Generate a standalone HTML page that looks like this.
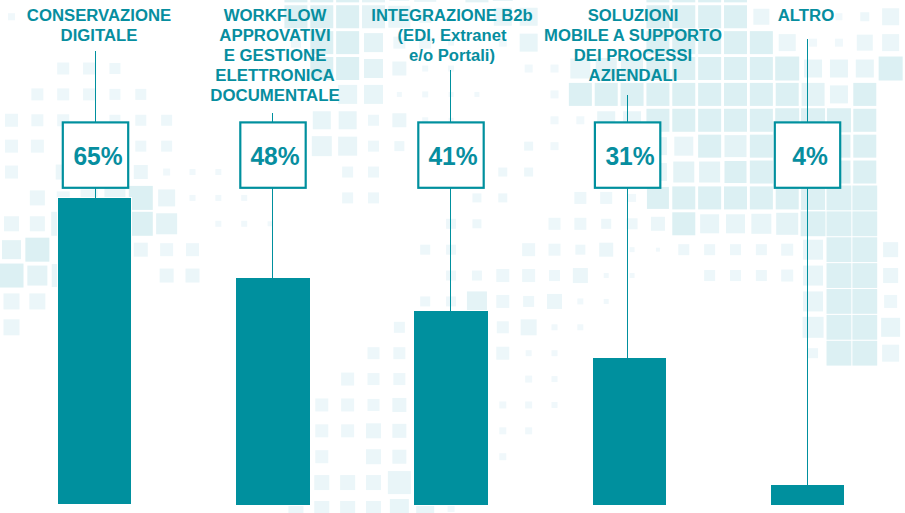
<!DOCTYPE html><html lang="it"><head><meta charset="utf-8"><title>Grafico</title><style>
html,body{margin:0;padding:0;background:#fff;}
body{width:905px;height:513px;overflow:hidden;position:relative;font-family:"Liberation Sans",sans-serif;}
.bg{position:absolute;left:0;top:0;}
.bar{position:absolute;background:#00909e;box-shadow:0 0 0 1px #fff;}
.ln{position:absolute;width:1px;background:#00909e;}
.box{position:absolute;width:64px;height:64px;border:2px solid #00909e;background:#fff;box-sizing:content-box;}
.pct{position:absolute;width:68px;text-align:center;font-weight:bold;font-size:26.5px;line-height:68px;color:#078e9f;white-space:nowrap;transform:scaleX(0.928);transform-origin:50% 50%;}
.lab{position:absolute;width:240px;text-align:center;font-weight:bold;font-size:16px;line-height:20px;color:#078e9f;white-space:nowrap;transform:scaleX(1.05);transform-origin:50% 50%;}
</style></head><body>
<svg class="bg" width="905" height="513" viewBox="0 0 905 513"><rect x="284.43" y="-20.63" width="23.0" height="23.0" fill="#dcf0f3"/><rect x="310.29" y="-20.63" width="23.0" height="23.0" fill="#dcf0f3"/><rect x="336.14" y="-20.63" width="23.0" height="23.0" fill="#dcf0f3"/><rect x="362.0" y="-20.63" width="23.0" height="23.0" fill="#e4f3f6"/><rect x="389.36" y="-19.13" width="20.0" height="20.0" fill="#e8f5f8"/><rect x="414.21" y="-20.13" width="22.0" height="22.0" fill="#e8f5f8"/><rect x="465.43" y="-20.63" width="23.0" height="23.0" fill="#e4f3f6"/><rect x="492.79" y="-19.13" width="20.0" height="20.0" fill="#e4f3f6"/><rect x="646.43" y="-20.63" width="23.0" height="23.0" fill="#dcf0f3"/><rect x="672.29" y="-20.63" width="23.0" height="23.0" fill="#dcf0f3"/><rect x="698.14" y="-20.63" width="23.0" height="23.0" fill="#dcf0f3"/><rect x="724.0" y="-20.63" width="23.0" height="23.0" fill="#dcf0f3"/><rect x="8.0" y="13.25" width="7.0" height="7.0" fill="#f0f8fb"/><rect x="284.43" y="5.25" width="23.0" height="23.0" fill="#dcf0f3"/><rect x="310.29" y="5.25" width="23.0" height="23.0" fill="#dcf0f3"/><rect x="336.14" y="5.25" width="23.0" height="23.0" fill="#dcf0f3"/><rect x="362.0" y="5.25" width="23.0" height="23.0" fill="#e4f3f6"/><rect x="388.36" y="5.75" width="22.0" height="22.0" fill="#e8f5f8"/><rect x="419.21" y="10.75" width="12.0" height="12.0" fill="#edf7fa"/><rect x="493.79" y="7.75" width="18.0" height="18.0" fill="#e8f5f8"/><rect x="519.64" y="7.75" width="18.0" height="18.0" fill="#e8f5f8"/><rect x="646.43" y="5.25" width="23.0" height="23.0" fill="#dcf0f3"/><rect x="672.29" y="5.25" width="23.0" height="23.0" fill="#dcf0f3"/><rect x="698.14" y="5.25" width="23.0" height="23.0" fill="#dcf0f3"/><rect x="724.0" y="5.25" width="23.0" height="23.0" fill="#dcf0f3"/><rect x="753.36" y="8.75" width="16.0" height="16.0" fill="#ebf6f9"/><rect x="835.43" y="13.25" width="7.0" height="7.0" fill="#f0f8fb"/><rect x="860.29" y="12.25" width="9.0" height="9.0" fill="#edf7fa"/><rect x="882.14" y="8.25" width="17.0" height="17.0" fill="#ebf6f9"/><rect x="290.93" y="37.63" width="10.0" height="10.0" fill="#edf7fa"/><rect x="310.29" y="31.13" width="23.0" height="23.0" fill="#dcf0f3"/><rect x="336.14" y="31.13" width="23.0" height="23.0" fill="#dcf0f3"/><rect x="364.0" y="33.13" width="19.0" height="19.0" fill="#e4f3f6"/><rect x="393.36" y="36.63" width="12.0" height="12.0" fill="#edf7fa"/><rect x="419.21" y="36.63" width="12.0" height="12.0" fill="#edf7fa"/><rect x="448.07" y="39.63" width="6.0" height="6.0" fill="#f0f8fb"/><rect x="498.79" y="38.63" width="8.0" height="8.0" fill="#f0f8fb"/><rect x="519.64" y="33.63" width="18.0" height="18.0" fill="#e8f5f8"/><rect x="646.43" y="31.13" width="23.0" height="23.0" fill="#dcf0f3"/><rect x="672.29" y="31.13" width="23.0" height="23.0" fill="#dcf0f3"/><rect x="698.14" y="31.13" width="23.0" height="23.0" fill="#dcf0f3"/><rect x="724.0" y="31.13" width="23.0" height="23.0" fill="#dcf0f3"/><rect x="749.86" y="31.13" width="23.0" height="23.0" fill="#dcf0f3"/><rect x="778.71" y="34.13" width="17.0" height="17.0" fill="#ebf6f9"/><rect x="809.07" y="38.63" width="8.0" height="8.0" fill="#f0f8fb"/><rect x="834.93" y="38.63" width="8.0" height="8.0" fill="#f0f8fb"/><rect x="856.79" y="34.63" width="16.0" height="16.0" fill="#ebf6f9"/><rect x="882.14" y="34.13" width="17.0" height="17.0" fill="#ebf6f9"/><rect x="57.21" y="62.51" width="12.0" height="12.0" fill="#edf7fa"/><rect x="83.07" y="62.51" width="12.0" height="12.0" fill="#edf7fa"/><rect x="109.43" y="63.01" width="11.0" height="11.0" fill="#edf7fa"/><rect x="310.29" y="57.01" width="23.0" height="23.0" fill="#dcf0f3"/><rect x="336.14" y="57.01" width="23.0" height="23.0" fill="#dcf0f3"/><rect x="364.0" y="59.01" width="19.0" height="19.0" fill="#e4f3f6"/><rect x="392.36" y="61.51" width="14.0" height="14.0" fill="#ebf6f9"/><rect x="422.21" y="65.51" width="6.0" height="6.0" fill="#f0f8fb"/><rect x="448.07" y="65.51" width="6.0" height="6.0" fill="#f0f8fb"/><rect x="524.64" y="64.51" width="8.0" height="8.0" fill="#f0f8fb"/><rect x="550.5" y="64.51" width="8.0" height="8.0" fill="#f0f8fb"/><rect x="570.36" y="58.51" width="20.0" height="20.0" fill="#e8f5f8"/><rect x="595.71" y="58.01" width="21.0" height="21.0" fill="#e4f3f6"/><rect x="621.07" y="57.51" width="22.0" height="22.0" fill="#e4f3f6"/><rect x="646.43" y="57.01" width="23.0" height="23.0" fill="#dcf0f3"/><rect x="672.29" y="57.01" width="23.0" height="23.0" fill="#dcf0f3"/><rect x="698.14" y="57.01" width="23.0" height="23.0" fill="#dcf0f3"/><rect x="724.0" y="57.01" width="23.0" height="23.0" fill="#dcf0f3"/><rect x="749.86" y="57.01" width="23.0" height="23.0" fill="#dcf0f3"/><rect x="775.21" y="56.51" width="24.0" height="24.0" fill="#dcf0f3"/><rect x="804.07" y="59.51" width="18.0" height="18.0" fill="#e8f5f8"/><rect x="829.93" y="59.51" width="18.0" height="18.0" fill="#e8f5f8"/><rect x="855.79" y="59.51" width="18.0" height="18.0" fill="#e8f5f8"/><rect x="878.64" y="56.51" width="24.0" height="24.0" fill="#dcf0f3"/><rect x="31.36" y="88.39" width="12.0" height="12.0" fill="#edf7fa"/><rect x="57.21" y="88.39" width="12.0" height="12.0" fill="#edf7fa"/><rect x="83.07" y="88.39" width="12.0" height="12.0" fill="#edf7fa"/><rect x="109.43" y="88.89" width="11.0" height="11.0" fill="#edf7fa"/><rect x="135.29" y="88.89" width="11.0" height="11.0" fill="#edf7fa"/><rect x="338.14" y="84.89" width="19.0" height="19.0" fill="#e8f5f8"/><rect x="364.0" y="84.89" width="19.0" height="19.0" fill="#e8f5f8"/><rect x="396.86" y="91.89" width="5.0" height="5.0" fill="#f0f8fb"/><rect x="422.21" y="91.39" width="6.0" height="6.0" fill="#f0f8fb"/><rect x="448.57" y="91.89" width="5.0" height="5.0" fill="#f0f8fb"/><rect x="474.43" y="91.89" width="5.0" height="5.0" fill="#f0f8fb"/><rect x="550.5" y="90.39" width="8.0" height="8.0" fill="#f0f8fb"/><rect x="568.86" y="82.89" width="23.0" height="23.0" fill="#dcf0f3"/><rect x="594.71" y="82.89" width="23.0" height="23.0" fill="#dcf0f3"/><rect x="620.57" y="82.89" width="23.0" height="23.0" fill="#dcf0f3"/><rect x="646.43" y="82.89" width="23.0" height="23.0" fill="#dcf0f3"/><rect x="672.29" y="82.89" width="23.0" height="23.0" fill="#dcf0f3"/><rect x="698.14" y="82.89" width="23.0" height="23.0" fill="#dcf0f3"/><rect x="724.0" y="82.89" width="23.0" height="23.0" fill="#dcf0f3"/><rect x="749.86" y="82.89" width="23.0" height="23.0" fill="#dcf0f3"/><rect x="775.71" y="82.89" width="23.0" height="23.0" fill="#dcf0f3"/><rect x="801.57" y="82.89" width="23.0" height="23.0" fill="#e4f3f6"/><rect x="829.93" y="85.39" width="18.0" height="18.0" fill="#e8f5f8"/><rect x="853.29" y="82.89" width="23.0" height="23.0" fill="#dcf0f3"/><rect x="5.0" y="113.77" width="13.0" height="13.0" fill="#edf7fa"/><rect x="31.36" y="114.27" width="12.0" height="12.0" fill="#edf7fa"/><rect x="57.21" y="114.27" width="12.0" height="12.0" fill="#edf7fa"/><rect x="109.43" y="114.77" width="11.0" height="11.0" fill="#edf7fa"/><rect x="135.29" y="114.77" width="11.0" height="11.0" fill="#edf7fa"/><rect x="161.14" y="114.77" width="11.0" height="11.0" fill="#edf7fa"/><rect x="312.79" y="111.27" width="18.0" height="18.0" fill="#e8f5f8"/><rect x="338.64" y="111.27" width="18.0" height="18.0" fill="#e8f5f8"/><rect x="368.0" y="114.77" width="11.0" height="11.0" fill="#edf7fa"/><rect x="392.36" y="113.27" width="14.0" height="14.0" fill="#ebf6f9"/><rect x="422.21" y="117.27" width="6.0" height="6.0" fill="#f0f8fb"/><rect x="448.57" y="117.77" width="5.0" height="5.0" fill="#f0f8fb"/><rect x="550.5" y="116.27" width="8.0" height="8.0" fill="#f0f8fb"/><rect x="576.36" y="116.27" width="8.0" height="8.0" fill="#f0f8fb"/><rect x="597.21" y="111.27" width="18.0" height="18.0" fill="#e8f5f8"/><rect x="623.07" y="111.27" width="18.0" height="18.0" fill="#e8f5f8"/><rect x="646.43" y="108.77" width="23.0" height="23.0" fill="#dcf0f3"/><rect x="672.29" y="108.77" width="23.0" height="23.0" fill="#dcf0f3"/><rect x="698.14" y="108.77" width="23.0" height="23.0" fill="#dcf0f3"/><rect x="724.0" y="108.77" width="23.0" height="23.0" fill="#dcf0f3"/><rect x="749.86" y="108.77" width="23.0" height="23.0" fill="#dcf0f3"/><rect x="775.21" y="108.27" width="24.0" height="24.0" fill="#dcf0f3"/><rect x="801.07" y="108.27" width="24.0" height="24.0" fill="#dcf0f3"/><rect x="826.93" y="108.27" width="24.0" height="24.0" fill="#dcf0f3"/><rect x="853.29" y="108.77" width="23.0" height="23.0" fill="#dcf0f3"/><rect x="5.0" y="139.65" width="13.0" height="13.0" fill="#edf7fa"/><rect x="30.86" y="139.65" width="13.0" height="13.0" fill="#edf7fa"/><rect x="135.29" y="140.65" width="11.0" height="11.0" fill="#edf7fa"/><rect x="161.14" y="140.65" width="11.0" height="11.0" fill="#edf7fa"/><rect x="311.79" y="136.15" width="20.0" height="20.0" fill="#e9f5f8"/><rect x="338.14" y="136.65" width="19.0" height="19.0" fill="#e9f5f8"/><rect x="368.0" y="140.65" width="11.0" height="11.0" fill="#edf7fa"/><rect x="394.36" y="141.15" width="10.0" height="10.0" fill="#edf7fa"/><rect x="524.14" y="141.65" width="9.0" height="9.0" fill="#edf7fa"/><rect x="550.5" y="142.15" width="8.0" height="8.0" fill="#f0f8fb"/><rect x="648.93" y="137.15" width="18.0" height="18.0" fill="#e8f5f8"/><rect x="674.29" y="136.65" width="19.0" height="19.0" fill="#e9f5f8"/><rect x="698.14" y="134.65" width="23.0" height="23.0" fill="#dcf0f3"/><rect x="724.5" y="135.15" width="22.0" height="22.0" fill="#e4f3f6"/><rect x="749.86" y="134.65" width="23.0" height="23.0" fill="#dcf0f3"/><rect x="775.71" y="134.65" width="23.0" height="23.0" fill="#dcf0f3"/><rect x="801.57" y="134.65" width="23.0" height="23.0" fill="#dcf0f3"/><rect x="827.43" y="134.65" width="23.0" height="23.0" fill="#dcf0f3"/><rect x="853.29" y="134.65" width="23.0" height="23.0" fill="#dcf0f3"/><rect x="5.0" y="165.53" width="13.0" height="13.0" fill="#edf7fa"/><rect x="55.71" y="164.53" width="15.0" height="15.0" fill="#ebf6f9"/><rect x="133.79" y="165.03" width="14.0" height="14.0" fill="#ebf6f9"/><rect x="163.14" y="168.53" width="7.0" height="7.0" fill="#f0f8fb"/><rect x="189.5" y="169.03" width="6.0" height="6.0" fill="#f0f8fb"/><rect x="215.36" y="169.03" width="6.0" height="6.0" fill="#f0f8fb"/><rect x="342.14" y="166.53" width="11.0" height="11.0" fill="#edf7fa"/><rect x="368.0" y="166.53" width="11.0" height="11.0" fill="#edf7fa"/><rect x="498.29" y="167.53" width="9.0" height="9.0" fill="#edf7fa"/><rect x="524.14" y="167.53" width="9.0" height="9.0" fill="#edf7fa"/><rect x="648.93" y="163.03" width="18.0" height="18.0" fill="#e8f5f8"/><rect x="673.29" y="161.53" width="21.0" height="21.0" fill="#e4f3f6"/><rect x="699.14" y="161.53" width="21.0" height="21.0" fill="#e4f3f6"/><rect x="724.5" y="161.03" width="22.0" height="22.0" fill="#dcf0f3"/><rect x="749.86" y="160.53" width="23.0" height="23.0" fill="#dcf0f3"/><rect x="775.71" y="160.53" width="23.0" height="23.0" fill="#dcf0f3"/><rect x="801.57" y="160.53" width="23.0" height="23.0" fill="#dcf0f3"/><rect x="827.43" y="160.53" width="23.0" height="23.0" fill="#dcf0f3"/><rect x="853.29" y="160.53" width="23.0" height="23.0" fill="#dcf0f3"/><rect x="29.86" y="190.41" width="15.0" height="15.0" fill="#ebf6f9"/><rect x="56.71" y="191.41" width="13.0" height="13.0" fill="#edf7fa"/><rect x="80.57" y="189.41" width="17.0" height="17.0" fill="#ebf6f9"/><rect x="104.43" y="187.41" width="21.0" height="21.0" fill="#e8f5f8"/><rect x="128.79" y="185.91" width="24.0" height="24.0" fill="#dcf0f3"/><rect x="158.14" y="189.41" width="17.0" height="17.0" fill="#e9f5f8"/><rect x="189.5" y="194.91" width="6.0" height="6.0" fill="#f0f8fb"/><rect x="215.36" y="194.91" width="6.0" height="6.0" fill="#f0f8fb"/><rect x="241.21" y="194.91" width="6.0" height="6.0" fill="#f0f8fb"/><rect x="342.14" y="192.41" width="11.0" height="11.0" fill="#edf7fa"/><rect x="368.0" y="192.41" width="11.0" height="11.0" fill="#edf7fa"/><rect x="472.43" y="193.41" width="9.0" height="9.0" fill="#edf7fa"/><rect x="498.29" y="193.41" width="9.0" height="9.0" fill="#edf7fa"/><rect x="574.36" y="191.91" width="12.0" height="12.0" fill="#edf7fa"/><rect x="600.21" y="191.91" width="12.0" height="12.0" fill="#edf7fa"/><rect x="628.07" y="193.91" width="8.0" height="8.0" fill="#f0f8fb"/><rect x="646.93" y="186.91" width="22.0" height="22.0" fill="#dcf0f3"/><rect x="672.29" y="186.41" width="23.0" height="23.0" fill="#dcf0f3"/><rect x="698.14" y="186.41" width="23.0" height="23.0" fill="#dcf0f3"/><rect x="724.0" y="186.41" width="23.0" height="23.0" fill="#dcf0f3"/><rect x="749.86" y="186.41" width="23.0" height="23.0" fill="#dcf0f3"/><rect x="775.71" y="186.41" width="23.0" height="23.0" fill="#dcf0f3"/><rect x="801.07" y="185.91" width="24.0" height="24.0" fill="#dcf0f3"/><rect x="826.53" y="185.51" width="24.8" height="24.8" fill="#dcf0f3"/><rect x="852.39" y="185.51" width="24.8" height="24.8" fill="#dcf0f3"/><rect x="4.0" y="216.29" width="15.0" height="15.0" fill="#ebf6f9"/><rect x="29.86" y="216.29" width="15.0" height="15.0" fill="#ebf6f9"/><rect x="51.21" y="211.79" width="24.0" height="24.0" fill="#e8f5f8"/><rect x="128.79" y="211.79" width="24.0" height="24.0" fill="#dcf0f3"/><rect x="156.14" y="213.29" width="21.0" height="21.0" fill="#e4f3f6"/><rect x="215.36" y="220.79" width="6.0" height="6.0" fill="#f0f8fb"/><rect x="241.21" y="220.79" width="6.0" height="6.0" fill="#f0f8fb"/><rect x="267.57" y="221.29" width="5.0" height="5.0" fill="#f0f8fb"/><rect x="446.07" y="218.79" width="10.0" height="10.0" fill="#edf7fa"/><rect x="472.43" y="219.29" width="9.0" height="9.0" fill="#edf7fa"/><rect x="548.5" y="217.79" width="12.0" height="12.0" fill="#edf7fa"/><rect x="574.36" y="217.79" width="12.0" height="12.0" fill="#edf7fa"/><rect x="601.21" y="218.79" width="10.0" height="10.0" fill="#edf7fa"/><rect x="626.57" y="218.29" width="11.0" height="11.0" fill="#edf7fa"/><rect x="650.93" y="216.79" width="14.0" height="14.0" fill="#ebf6f9"/><rect x="672.29" y="212.29" width="23.0" height="23.0" fill="#dcf0f3"/><rect x="700.14" y="214.29" width="19.0" height="19.0" fill="#e8f5f8"/><rect x="726.0" y="214.29" width="19.0" height="19.0" fill="#e8f5f8"/><rect x="751.36" y="213.79" width="20.0" height="20.0" fill="#e8f5f8"/><rect x="776.21" y="212.79" width="22.0" height="22.0" fill="#e4f3f6"/><rect x="800.67" y="211.39" width="24.8" height="24.8" fill="#dcf0f3"/><rect x="826.53" y="211.39" width="24.8" height="24.8" fill="#dcf0f3"/><rect x="852.39" y="211.39" width="24.8" height="24.8" fill="#dcf0f3"/><rect x="2.0" y="240.17" width="19.0" height="19.0" fill="#e4f3f6"/><rect x="25.36" y="237.67" width="24.0" height="24.0" fill="#dcf0f3"/><rect x="133.79" y="242.67" width="14.0" height="14.0" fill="#ebf6f9"/><rect x="160.14" y="243.17" width="13.0" height="13.0" fill="#edf7fa"/><rect x="186.0" y="243.17" width="13.0" height="13.0" fill="#edf7fa"/><rect x="420.21" y="244.67" width="10.0" height="10.0" fill="#edf7fa"/><rect x="446.07" y="244.67" width="10.0" height="10.0" fill="#edf7fa"/><rect x="522.14" y="243.17" width="13.0" height="13.0" fill="#edf7fa"/><rect x="548.5" y="243.67" width="12.0" height="12.0" fill="#edf7fa"/><rect x="575.36" y="244.67" width="10.0" height="10.0" fill="#edf7fa"/><rect x="599.21" y="242.67" width="14.0" height="14.0" fill="#ebf6f9"/><rect x="629.57" y="247.17" width="5.0" height="5.0" fill="#f0f8fb"/><rect x="655.93" y="247.67" width="4.0" height="4.0" fill="#f0f8fb"/><rect x="678.29" y="244.17" width="11.0" height="11.0" fill="#edf7fa"/><rect x="704.14" y="244.17" width="11.0" height="11.0" fill="#edf7fa"/><rect x="730.0" y="244.17" width="11.0" height="11.0" fill="#edf7fa"/><rect x="755.86" y="244.17" width="11.0" height="11.0" fill="#edf7fa"/><rect x="781.21" y="243.67" width="12.0" height="12.0" fill="#edf7fa"/><rect x="803.07" y="239.67" width="20.0" height="20.0" fill="#e8f5f8"/><rect x="826.53" y="237.27" width="24.8" height="24.8" fill="#dcf0f3"/><rect x="852.39" y="237.27" width="24.8" height="24.8" fill="#dcf0f3"/><rect x="883.14" y="242.17" width="15.0" height="15.0" fill="#ebf6f9"/><rect x="-0.5" y="263.55" width="24.0" height="24.0" fill="#dcf0f3"/><rect x="27.36" y="265.55" width="20.0" height="20.0" fill="#e4f3f6"/><rect x="51.71" y="264.05" width="23.0" height="23.0" fill="#e8f5f8"/><rect x="159.64" y="268.55" width="14.0" height="14.0" fill="#ebf6f9"/><rect x="185.5" y="268.55" width="14.0" height="14.0" fill="#ebf6f9"/><rect x="446.07" y="270.55" width="10.0" height="10.0" fill="#edf7fa"/><rect x="471.93" y="270.55" width="10.0" height="10.0" fill="#edf7fa"/><rect x="496.29" y="269.05" width="13.0" height="13.0" fill="#edf7fa"/><rect x="522.14" y="269.05" width="13.0" height="13.0" fill="#edf7fa"/><rect x="549.0" y="270.05" width="11.0" height="11.0" fill="#edf7fa"/><rect x="572.86" y="268.05" width="15.0" height="15.0" fill="#ebf6f9"/><rect x="603.71" y="273.05" width="5.0" height="5.0" fill="#f0f8fb"/><rect x="629.57" y="273.05" width="5.0" height="5.0" fill="#f0f8fb"/><rect x="704.14" y="270.05" width="11.0" height="11.0" fill="#edf7fa"/><rect x="730.0" y="270.05" width="11.0" height="11.0" fill="#edf7fa"/><rect x="755.86" y="270.05" width="11.0" height="11.0" fill="#edf7fa"/><rect x="781.21" y="269.55" width="12.0" height="12.0" fill="#edf7fa"/><rect x="803.07" y="265.55" width="20.0" height="20.0" fill="#e8f5f8"/><rect x="826.53" y="263.15" width="24.8" height="24.8" fill="#dcf0f3"/><rect x="852.39" y="263.15" width="24.8" height="24.8" fill="#dcf0f3"/><rect x="883.14" y="268.05" width="15.0" height="15.0" fill="#ebf6f9"/><rect x="3.5" y="293.43" width="16.0" height="16.0" fill="#ebf6f9"/><rect x="29.36" y="293.43" width="16.0" height="16.0" fill="#ebf6f9"/><rect x="420.21" y="296.43" width="10.0" height="10.0" fill="#edf7fa"/><rect x="446.07" y="296.43" width="10.0" height="10.0" fill="#edf7fa"/><rect x="466.93" y="291.43" width="20.0" height="20.0" fill="#e4f3f6"/><rect x="496.29" y="294.93" width="13.0" height="13.0" fill="#edf7fa"/><rect x="523.14" y="295.93" width="11.0" height="11.0" fill="#edf7fa"/><rect x="547.0" y="293.93" width="15.0" height="15.0" fill="#ebf6f9"/><rect x="577.36" y="298.43" width="6.0" height="6.0" fill="#f0f8fb"/><rect x="603.71" y="298.93" width="5.0" height="5.0" fill="#f0f8fb"/><rect x="803.07" y="291.43" width="20.0" height="20.0" fill="#e8f5f8"/><rect x="826.53" y="289.03" width="24.8" height="24.8" fill="#dcf0f3"/><rect x="852.39" y="289.03" width="24.8" height="24.8" fill="#dcf0f3"/><rect x="884.14" y="294.93" width="13.0" height="13.0" fill="#edf7fa"/><rect x="3.5" y="319.31" width="16.0" height="16.0" fill="#ebf6f9"/><rect x="393.86" y="321.81" width="11.0" height="11.0" fill="#edf7fa"/><rect x="496.79" y="321.31" width="12.0" height="12.0" fill="#edf7fa"/><rect x="520.64" y="319.31" width="16.0" height="16.0" fill="#ebf6f9"/><rect x="551.5" y="324.31" width="6.0" height="6.0" fill="#f0f8fb"/><rect x="577.36" y="324.31" width="6.0" height="6.0" fill="#f0f8fb"/><rect x="802.57" y="316.81" width="21.0" height="21.0" fill="#e8f5f8"/><rect x="826.53" y="314.91" width="24.8" height="24.8" fill="#dcf0f3"/><rect x="852.39" y="314.91" width="24.8" height="24.8" fill="#dcf0f3"/><rect x="881.14" y="317.81" width="19.0" height="19.0" fill="#e8f5f8"/><rect x="367.5" y="347.19" width="12.0" height="12.0" fill="#edf7fa"/><rect x="393.36" y="347.19" width="12.0" height="12.0" fill="#edf7fa"/><rect x="496.29" y="346.69" width="13.0" height="13.0" fill="#edf7fa"/><rect x="525.64" y="350.19" width="6.0" height="6.0" fill="#f0f8fb"/><rect x="551.5" y="350.19" width="6.0" height="6.0" fill="#f0f8fb"/><rect x="808.07" y="348.19" width="10.0" height="10.0" fill="#edf7fa"/><rect x="826.53" y="340.79" width="24.8" height="24.8" fill="#dcf0f3"/><rect x="852.39" y="340.79" width="24.8" height="24.8" fill="#dcf0f3"/><rect x="882.14" y="344.69" width="17.0" height="17.0" fill="#ebf6f9"/><rect x="341.14" y="372.57" width="13.0" height="13.0" fill="#edf7fa"/><rect x="367.5" y="373.07" width="12.0" height="12.0" fill="#edf7fa"/><rect x="393.36" y="373.07" width="12.0" height="12.0" fill="#edf7fa"/><rect x="525.14" y="375.57" width="7.0" height="7.0" fill="#f0f8fb"/><rect x="551.5" y="376.07" width="6.0" height="6.0" fill="#f0f8fb"/><rect x="315.29" y="398.45" width="13.0" height="13.0" fill="#edf7fa"/><rect x="341.14" y="398.45" width="13.0" height="13.0" fill="#edf7fa"/><rect x="367.5" y="398.95" width="12.0" height="12.0" fill="#edf7fa"/><rect x="392.36" y="397.95" width="14.0" height="14.0" fill="#ebf6f9"/><rect x="499.29" y="401.45" width="7.0" height="7.0" fill="#f0f8fb"/><rect x="525.14" y="401.45" width="7.0" height="7.0" fill="#f0f8fb"/><rect x="551.5" y="401.95" width="6.0" height="6.0" fill="#f0f8fb"/><rect x="315.29" y="424.33" width="13.0" height="13.0" fill="#edf7fa"/><rect x="341.14" y="424.33" width="13.0" height="13.0" fill="#edf7fa"/><rect x="366.0" y="423.33" width="15.0" height="15.0" fill="#ebf6f9"/><rect x="392.36" y="423.83" width="14.0" height="14.0" fill="#ebf6f9"/><rect x="499.29" y="427.33" width="7.0" height="7.0" fill="#f0f8fb"/><rect x="525.14" y="427.33" width="7.0" height="7.0" fill="#f0f8fb"/><rect x="315.29" y="450.21" width="13.0" height="13.0" fill="#edf7fa"/><rect x="366.0" y="449.21" width="15.0" height="15.0" fill="#ebf6f9"/><rect x="392.36" y="449.71" width="14.0" height="14.0" fill="#ebf6f9"/><rect x="499.29" y="453.21" width="7.0" height="7.0" fill="#f0f8fb"/><rect x="314.29" y="475.09" width="15.0" height="15.0" fill="#ebf6f9"/><rect x="340.14" y="475.09" width="15.0" height="15.0" fill="#ebf6f9"/><rect x="366.0" y="475.09" width="15.0" height="15.0" fill="#ebf6f9"/><rect x="387.86" y="471.09" width="23.0" height="23.0" fill="#e9f5f8"/><rect x="288.43" y="500.97" width="15.0" height="15.0" fill="#ebf6f9"/><rect x="314.29" y="500.97" width="15.0" height="15.0" fill="#ebf6f9"/><rect x="340.14" y="500.97" width="15.0" height="15.0" fill="#ebf6f9"/><rect x="366.0" y="500.97" width="15.0" height="15.0" fill="#ebf6f9"/><rect x="389.86" y="498.97" width="19.0" height="19.0" fill="#e8f5f8"/><rect x="416.21" y="499.47" width="18.0" height="18.0" fill="#e8f5f8"/><rect x="447.57" y="504.97" width="7.0" height="7.0" fill="#f0f8fb"/></svg>
<div class="bar" style="left:58px;top:198px;width:73px;height:306px"></div>
<div class="bar" style="left:236px;top:278px;width:74px;height:227px"></div>
<div class="bar" style="left:414px;top:311px;width:74px;height:194px"></div>
<div class="bar" style="left:593px;top:358px;width:73px;height:147px"></div>
<div class="bar" style="left:771px;top:485px;width:73px;height:20px"></div>
<div class="ln" style="left:95px;top:51px;height:147px"></div>
<div class="ln" style="left:272px;top:113px;height:165px"></div>
<div class="ln" style="left:450px;top:70px;height:241px"></div>
<div class="ln" style="left:627px;top:95px;height:263px"></div>
<div class="ln" style="left:807px;top:39px;height:446px"></div>
<svg class="bg" width="905" height="513" viewBox="0 0 905 513"><g fill="#fff" stroke="#00909e" stroke-width="2.2"><rect x="62.8" y="122.4" width="65.4" height="65.4"/><rect x="240.3" y="122.4" width="65.4" height="65.4"/><rect x="418.3" y="122.4" width="65.4" height="65.4"/><rect x="594.9" y="122.4" width="65.4" height="65.4"/><rect x="774.8" y="122.4" width="65.4" height="65.4"/></g></svg>
<div class="pct" style="left:63.7px;top:122.0px">65%</div>
<div class="pct" style="left:241.2px;top:122.0px">48%</div>
<div class="pct" style="left:419.2px;top:122.0px">41%</div>
<div class="pct" style="left:595.8px;top:122.0px">31%</div>
<div class="pct" style="left:775.7px;top:122.0px">4%</div>
<div class="lab" style="left:-21.3px;top:6px;transform:scaleX(1.045)">CONSERVAZIONE<br>DIGITALE</div>
<div class="lab" style="left:154.8px;top:6px;transform:scaleX(1.05)">WORKFLOW<br>APPROVATIVI<br>E GESTIONE<br>ELETTRONICA<br>DOCUMENTALE</div>
<div class="lab" style="left:331.8px;top:6px;transform:scaleX(1.038)">INTEGRAZIONE B2b<br>(EDI, Extranet<br>e/o Portali)</div>
<div class="lab" style="left:513.2px;top:6px;transform:scaleX(1.04)">SOLUZIONI<br>MOBILE A SUPPORTO<br>DEI PROCESSI<br>AZIENDALI</div>
<div class="lab" style="left:685.8px;top:6px;transform:scaleX(1.05)">ALTRO</div>
</body></html>
